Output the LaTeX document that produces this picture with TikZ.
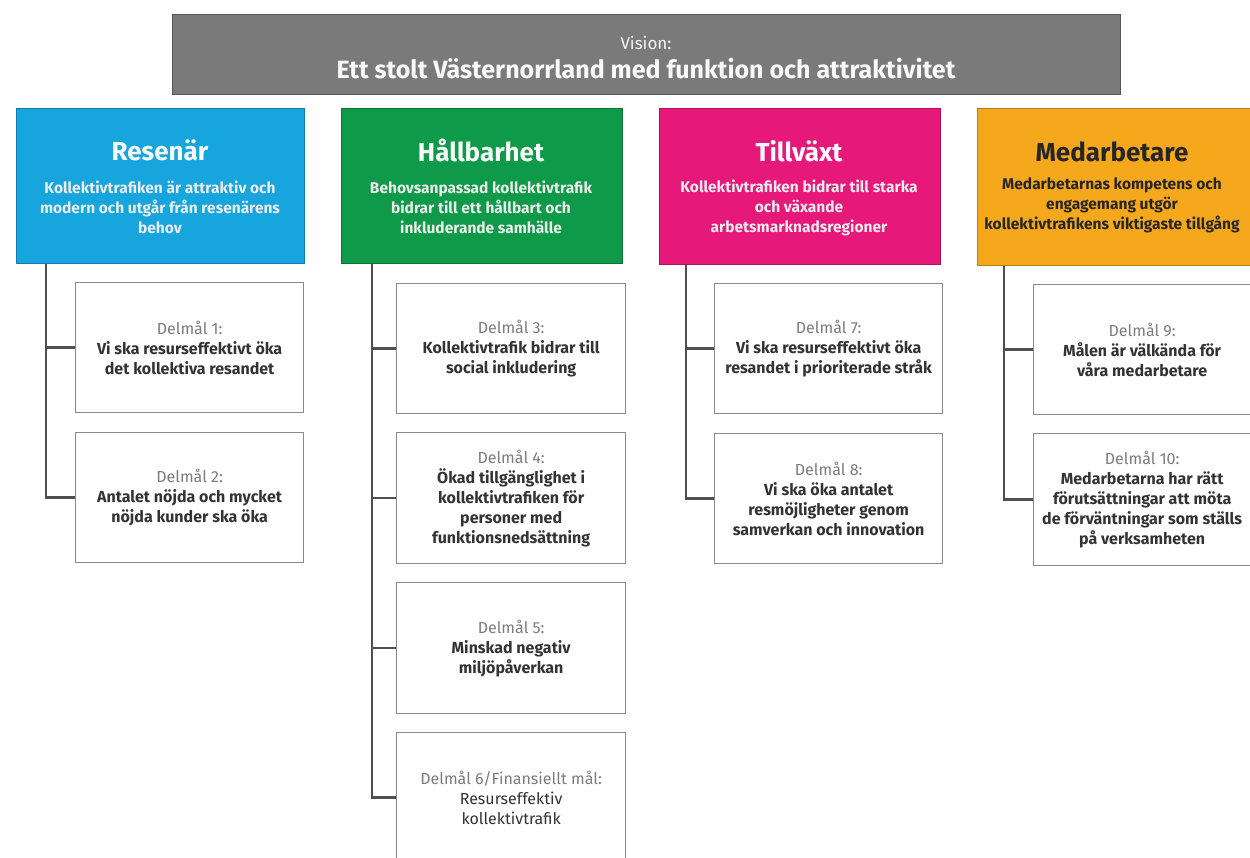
\documentclass[tikz,border=0pt]{standalone}
\usepackage{fontspec}
\setmainfont{Fira Sans}
\begin{document}
\begin{tikzpicture}[x=1pt,y=-1pt,
  visionbox/.style={fill=vgray, draw=vgray!70!black, line width=1pt, minimum width=948pt, minimum height=80pt, anchor=north west, inner sep=0pt},
  headbox/.style={draw=#1!75!black, fill=#1, line width=0.8pt, minimum height=155pt, anchor=north west, inner sep=0pt},
  headtitle/.style={font=\fontsize{26}{28}\selectfont\bfseries, text=white!96!gray},
  headsub/.style={font=\fontsize{15.5}{20}\selectfont\bfseries, text=white!85!gray, align=center},
  childbox/.style={draw=bordergray, line width=1.3pt, fill=white, minimum width=228pt, minimum height=130pt, anchor=north west, align=center, font=\fontsize{16}{20}\selectfont, inner sep=0pt},
  conn/.style={draw=conngray, line width=2.4pt},
  lbl/.style={text=lblgray}
]
\definecolor{vgray}{HTML}{7A7A7A}
\definecolor{cyanr}{HTML}{16A6DD}
\definecolor{greenh}{HTML}{0E9A48}
\definecolor{magt}{HTML}{E6197B}
\definecolor{orangem}{HTML}{F6A81C}
\definecolor{bordergray}{HTML}{8A8A8A}
\definecolor{conngray}{HTML}{4F4F4F}
\definecolor{lblgray}{HTML}{7C7C7C}
\definecolor{txtgray}{HTML}{333333}
\definecolor{darktxt}{HTML}{262626}

\useasboundingbox (0,0) rectangle (1250,857);
\clip (0,0) rectangle (1250,857);

% Vision
\node[visionbox] (vis) at (172,14) {};
\node[font=\fontsize{17}{20}\selectfont, text=white!92!gray] (vislbl) at (646,43) {Vision:};
\node[font=\fontsize{25}{28}\selectfont\bfseries, text=white!95!gray] (vistitle) at (646,69) {Ett stolt Västernorrland med funktion och attraktivitet};

% Headers
\node[headbox=cyanr, minimum width=288pt] (r) at (16,108) {};
\node[headtitle] (rt) at (160,150) {Resenär};
\node[headsub] (rs) at (160,207) {Kollektivtrafiken är attraktiv och\\modern och utgår från resenärens\\behov};

\node[headbox=greenh, minimum width=281pt] (h) at (341,108) {};
\node[headtitle] (ht) at (481,150) {Hållbarhet};
\node[headsub] (hs) at (481,207) {Behovsanpassad kollektivtrafik\\bidrar till ett hållbart och\\inkluderande samhälle};

\node[headbox=magt, minimum width=281pt, minimum height=156pt] (t) at (659,108) {};
\node[headtitle] (tt) at (799,151) {Tillväxt};
\node[headsub] (ts) at (799,208) {Kollektivtrafiken bidrar till starka\\och växande\\arbetsmarknadsregioner};

\node[headbox=orangem, minimum width=283pt, minimum height=157pt] (m) at (977,108) {};
\node[headtitle, text=darktxt] (mt) at (1112,152) {Medarbetare};
\node[headsub, text=darktxt] (ms) at (1112,205) {Medarbetarnas kompetens och\\engagemang utgör\\kollektivtrafikens viktigaste tillgång};

% Column 1
\node[childbox] (d1) at (75,282) {{\color{lblgray}Delmål 1:}\\\textbf{\color{txtgray}Vi ska resurseffektivt öka}\\\textbf{\color{txtgray}det kollektiva resandet}};
\node[childbox] (d2) at (75,432) {{\color{lblgray}Delmål 2:}\\\textbf{\color{txtgray}Antalet nöjda och mycket}\\\textbf{\color{txtgray}nöjda kunder ska öka}};

% Column 2
\node[childbox, minimum width=229pt] (d3) at (396,283) {{\color{lblgray}Delmål 3:}\\\textbf{\color{txtgray}Kollektivtrafik bidrar till}\\\textbf{\color{txtgray}social inkludering}};
\node[childbox, minimum width=229pt, minimum height=131pt] (d4) at (396,432) {{\color{lblgray}Delmål 4:}\\\textbf{\color{txtgray}Ökad tillgänglighet i}\\\textbf{\color{txtgray}kollektivtrafiken för}\\\textbf{\color{txtgray}personer med}\\\textbf{\color{txtgray}funktionsnedsättning}};
\node[childbox, minimum width=229pt, minimum height=131pt] (d5) at (396,582) {{\color{lblgray}Delmål 5:}\\\textbf{\color{txtgray}Minskad negativ}\\\textbf{\color{txtgray}miljöpåverkan}};
\node[childbox, minimum width=229pt] (d6) at (396,732) {{\color{lblgray}Delmål 6/Finansiellt mål:}\\{\color{txtgray}Resurseffektiv}\\{\color{txtgray}kollektivtrafik}};

% Column 3
\node[childbox] (d7) at (714,283) {{\color{lblgray}Delmål 7:}\\\textbf{\color{txtgray}Vi ska resurseffektivt öka}\\\textbf{\color{txtgray}resandet i prioriterade stråk}};
\node[childbox] (d8) at (714,433) {{\color{lblgray}Delmål 8:}\\\textbf{\color{txtgray}Vi ska öka antalet}\\\textbf{\color{txtgray}resmöjligheter genom}\\\textbf{\color{txtgray}samverkan och innovation}};

% Column 4
\node[childbox, minimum width=217pt] (d9) at (1033,284) {{\color{lblgray}Delmål 9:}\\\textbf{\color{txtgray}Målen är välkända för}\\\textbf{\color{txtgray}våra medarbetare}};
\node[childbox, minimum width=217pt, minimum height=132pt] (d10) at (1033,433) {{\color{lblgray}Delmål 10:}\\\textbf{\color{txtgray}Medarbetarna har rätt}\\\textbf{\color{txtgray}förutsättningar att möta}\\\textbf{\color{txtgray}de förväntningar som ställs}\\\textbf{\color{txtgray}på verksamheten}};

% Connectors
\coordinate (rtop) at (46,263.5);
\coordinate (htop) at (372,263.5);
\coordinate (ttop) at (686,264.5);
\coordinate (mtop) at (1004,265.5);

\draw[conn] (rtop) |- (d2.west);
\draw[conn] (d1.west) -- (d1.west -| rtop);

\draw[conn] (htop) |- (d6.west);
\draw[conn] (d3.west) -- (d3.west -| htop);
\draw[conn] (d4.west) -- (d4.west -| htop);
\draw[conn] (d5.west) -- (d5.west -| htop);

\draw[conn] (ttop) |- (d8.west);
\draw[conn] (d7.west) -- (d7.west -| ttop);

\draw[conn] (mtop) |- (d10.west);
\draw[conn] (d9.west) -- (d9.west -| mtop);
\end{tikzpicture}
\end{document}
